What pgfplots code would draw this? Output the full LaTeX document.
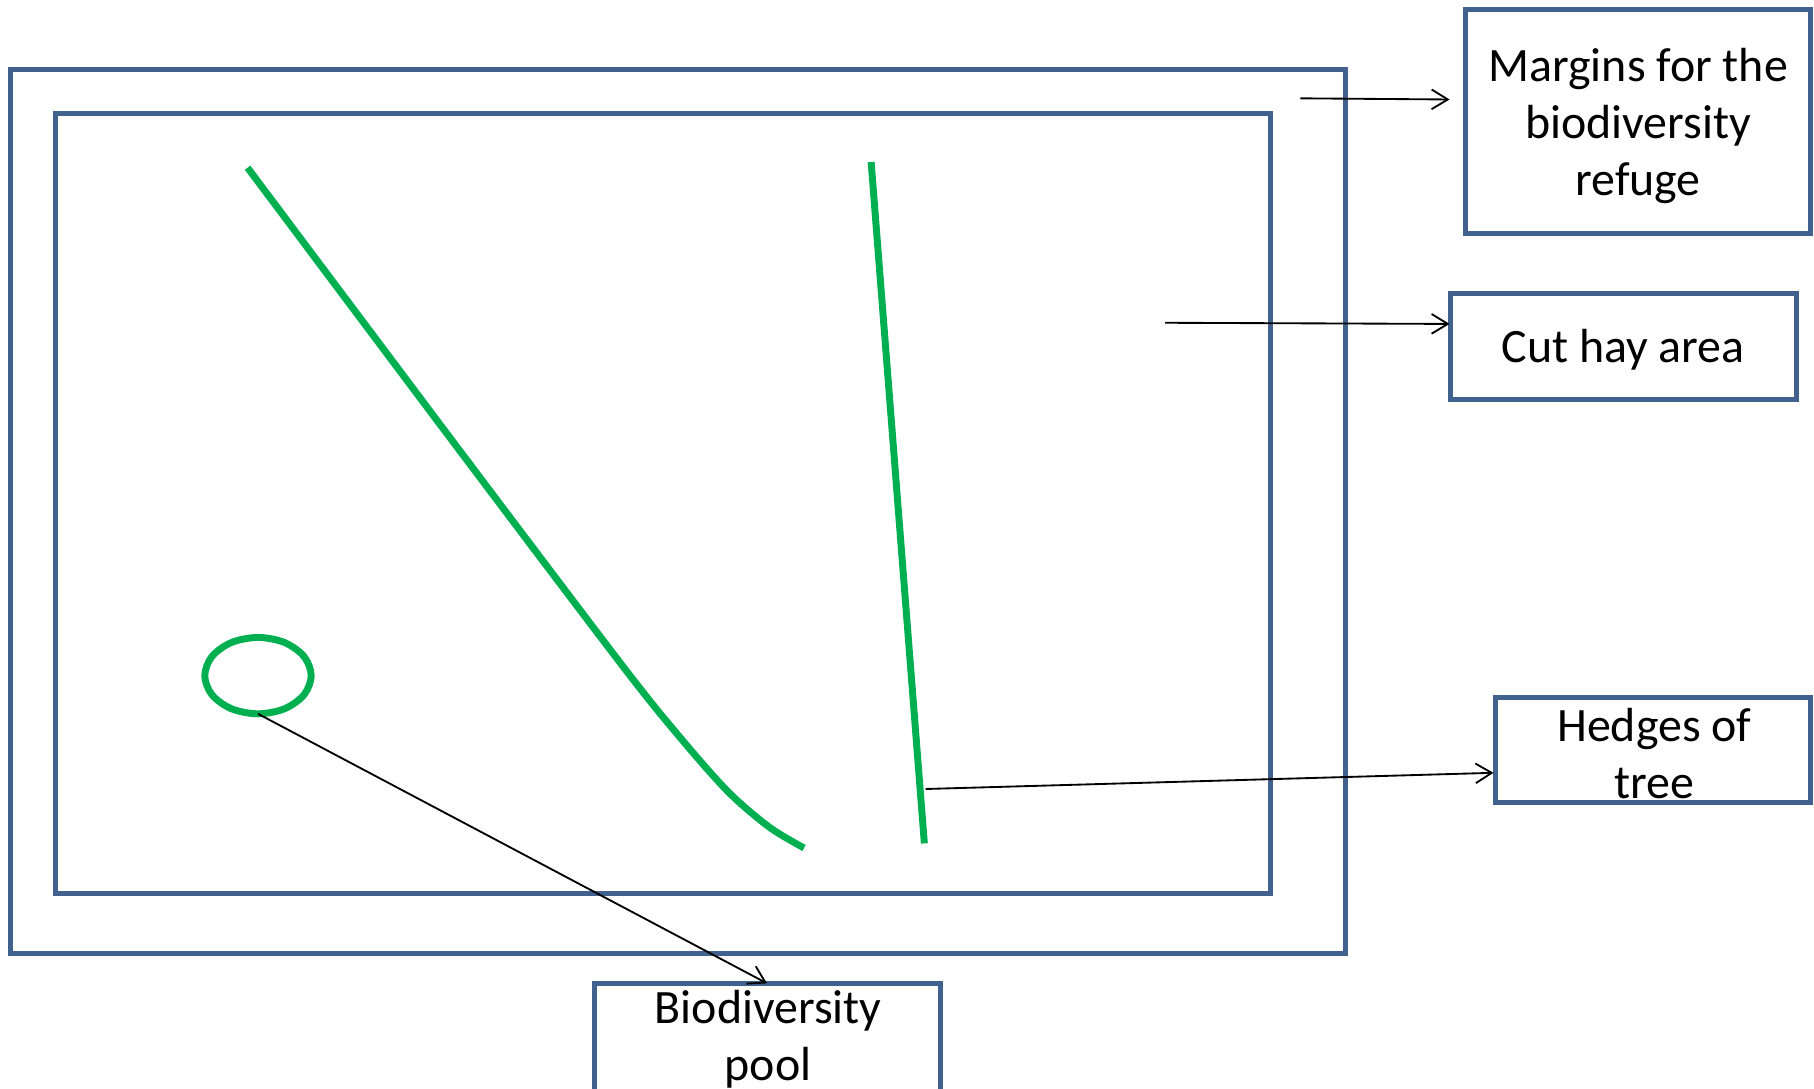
\documentclass[border=0pt]{standalone}
\usepackage{pgfplots}
\pgfplotsset{compat=1.18}
\usepackage{fontspec}
\setmainfont{Carlito}
\usetikzlibrary{arrows.meta}
\definecolor{boxblue}{HTML}{41628F}
\definecolor{hedge}{HTML}{00B050}
\begin{document}
\begin{tikzpicture}
\begin{axis}[
  x=0.5pt, y=0.5pt, y dir=reverse,
  xmin=0, xmax=1568, ymin=0, ymax=941,
  hide axis, clip=false,
]
% outer and inner rectangles
\addplot[boxblue, line width=2.2pt, line join=miter, mark=none] coordinates {(9,60) (1163,60) (1163,824) (9,824) (9,60) (1163,60)};
\addplot[boxblue, line width=2.2pt, line join=miter, mark=none] coordinates {(48,98) (1098,98) (1098,772) (48,772) (48,98) (1098,98)};
% label boxes
\addplot[boxblue, line width=2.2pt, line join=miter, mark=none] coordinates {(1267,8) (1565,8) (1565,202) (1267,202) (1267,8) (1565,8)};
\addplot[boxblue, line width=2.2pt, line join=miter, mark=none] coordinates {(1254,254) (1553,254) (1553,345) (1254,345) (1254,254) (1553,254)};
\addplot[boxblue, line width=2.2pt, line join=miter, mark=none] coordinates {(1293,603) (1565,603) (1565,694) (1293,694) (1293,603) (1565,603)};
\addplot[boxblue, line width=2.2pt, line join=miter, mark=none] coordinates {(514,941) (514,850) (813,850) (813,941)};
% green features
\addplot[hedge, line width=3pt, mark=none, smooth, tension=0.5] coordinates {(214,145) (400,393) (540,578) (590,640) (630,685) (665,715) (695,733)};
\addplot[hedge, line width=3pt, mark=none] coordinates {(753,140) (799,729)};
\addplot[hedge, line width=3pt, mark=none, smooth cycle, tension=0.55] coordinates {(269,584) (262.8,567.5) (246,555.4) (223,551) (200,555.4) (183.2,567.5) (177,584) (183.2,600.5) (200,612.6) (223,617) (246,612.6) (262.8,600.5)};
% arrows
\addplot[black, line width=0.8pt, mark=none, -{Straight Barb[length=7pt,width=8.5pt,line width=0.8pt]}] coordinates {(1124,85) (1253,86)};
\addplot[black, line width=0.8pt, mark=none, -{Straight Barb[length=7pt,width=8.5pt,line width=0.8pt]}] coordinates {(1007,279) (1253,280)};
\addplot[black, line width=0.8pt, mark=none, -{Straight Barb[length=7pt,width=8.5pt,line width=0.8pt]}] coordinates {(800,682) (1291,668)};
\addplot[black, line width=0.8pt, mark=none, -{Straight Barb[length=7pt,width=8.5pt,line width=0.8pt]}] coordinates {(223,617) (663,850)};
% texts
\node[align=center, font=\fontsize{20.7}{24.7}\selectfont] at (axis cs:1416,109) {Margins for the\\biodiversity\\refuge};
\node[align=center, font=\fontsize{20.7}{24.7}\selectfont] at (axis cs:1403,302) {Cut hay area};
\node[align=center, font=\fontsize{20.7}{24.7}\selectfont] at (axis cs:1430,651) {Hedges of\\tree};
\node[align=center, font=\fontsize{20.7}{24.7}\selectfont] at (axis cs:664,898) {Biodiversity\\pool};
\end{axis}
\pgfresetboundingbox
\path (current axis.south west) rectangle (current axis.north east);
\end{tikzpicture}
\end{document}
